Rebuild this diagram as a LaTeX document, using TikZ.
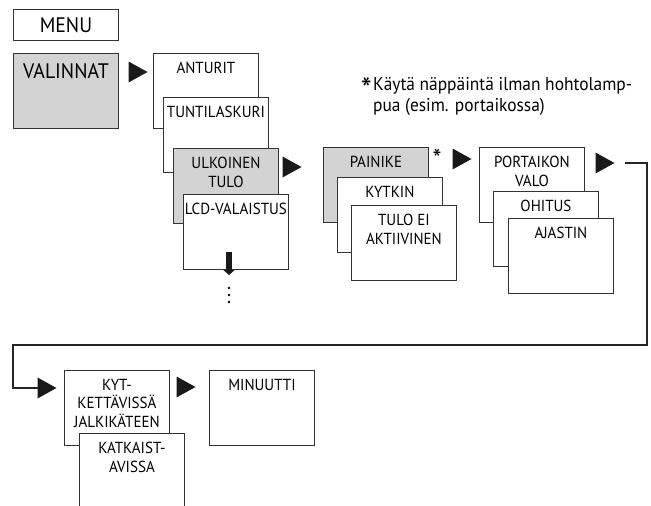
\documentclass[tikz,border=0pt]{standalone}
\usepackage{fontspec}
\setmainfont{PT Sans}[FakeStretch=0.94]
\usetikzlibrary{positioning, arrows.meta}
\definecolor{selgray}{RGB}{211,211,211}
\newcommand{\boxfont}{\fontsize{16}{18.5}\selectfont}
\newcommand{\bigfont}{\fontsize{21}{24}\selectfont}
\newcommand{\notefont}{\fontsize{18.5}{21}\selectfont}
\tikzset{
x=1pt, y=-1pt, % pixel units, y runs downwards
menubox/.style={draw=black!80, line width=0.9pt, fill=white, minimum width=105pt, minimum height=75pt, anchor=north west, inner sep=0pt}, % one menu entry
selbox/.style={menubox, fill=selgray}, % the entry that is chosen
boxtext/.style={font=\boxfont, align=center, inner sep=0pt, anchor=north, yshift=-9pt}, % text at the top of an entry
steparrow/.pic={\fill[black!90] (-9.5,-10.5) -- (9.5,0) -- (-9.5,10.5) -- cycle;}, % black triangle
starmark/.style={inner sep=0pt, font=\fontsize{32}{32}\selectfont},
route/.style={line width=2.6pt, draw=black!85},
downarrow/.style={line width=6pt, draw=black!90, -{Triangle[length=5pt, width=11pt]}},
}

\begin{document}
\begin{tikzpicture}
\useasboundingbox (0,0) rectangle (651,506);
\clip (0,0) rectangle (651,506);

% top menu
\node[menubox, minimum height=31pt, font=\bigfont] (menu) at (13,9) {MENU};
\node[selbox, label={[boxtext, font=\bigfont, yshift=-1pt]north:VALINNAT}] (valinnat) at (13,53) {};
\coordinate (a1) at (138,72);
\pic at (a1) {steparrow};

% options
\node[menubox, label={[boxtext]north:ANTURIT}] (anturit) at (153,53) {};
\node[menubox, label={[boxtext]north:TUNTILASKURI}] (tunti) at (163,97) {};
\node[selbox, label={[boxtext]north:ULKOINEN\\TULO}] (ulkoinen) at (173,148) {};
\node[menubox, label={[boxtext]north:LCD-VALAISTUS}] (lcd) at (183,194) {};
\coordinate (a2) at (292,167);
\pic at (a2) {steparrow};

\coordinate (more) at (229,252);
\draw[downarrow] (more) -- ++(0,23);
\foreach \k in {0,1,2}
  \fill (229,288+7*\k) circle (1.4pt);

% input type
\node[selbox, label={[boxtext]north:PAINIKE}] (painike) at (323,147) {};
\node[menubox, label={[boxtext]north:KYTKIN}] (kytkin) at (337,177) {};
\node[menubox, label={[boxtext]north:TULO EI\\AKTIIVINEN}] (eitulo) at (351,205) {};
\node[starmark, font=\fontsize{27}{27}\selectfont] (mark) at (437,159) {*};
\coordinate (a3) at (462,159);
\pic at (a3) {steparrow};

% function
\node[menubox, label={[boxtext]north:PORTAIKON\\VALO}] (portaikon) at (479,147) {};
\node[menubox, label={[boxtext]north:OHITUS}] (ohitus) at (493,191) {};
\node[menubox, label={[boxtext]north:AJASTIN}] (ajastin) at (508,218) {};
\coordinate (a4) at (605,163);
\pic at (a4) {steparrow};

% footnote
\node[font=\notefont, anchor=north west, inner sep=0pt, align=left] (note) at (373,77) {Käytä näppäintä ilman hohtolamp-\\pua (esim. portaikossa)};
\node[starmark] (star) at (366.5,89) {*};

% second row
\coordinate (a5) at (47,388);
\pic at (a5) {steparrow};
\node[menubox, label={[boxtext]north:KYT-\\KETTÄVISSÄ\\JALKIKÄTEEN}] (kyt) at (64,370) {};
\node[menubox, label={[boxtext]north:KATKAIST-\\AVISSA}] (katkaist) at (79,433) {};
\coordinate (a6) at (186,387);
\pic at (a6) {steparrow};
\node[menubox, label={[boxtext]north:MINUUTTI}] (minuutti) at (209,370) {};

\coordinate (bend) at (647,345);
\coordinate (drop) at (13,388);
\draw[route] ([xshift=20pt]a4) -| (bend) -| (drop) -- ([xshift=-9.5pt]a5);
\end{tikzpicture}
\end{document}
